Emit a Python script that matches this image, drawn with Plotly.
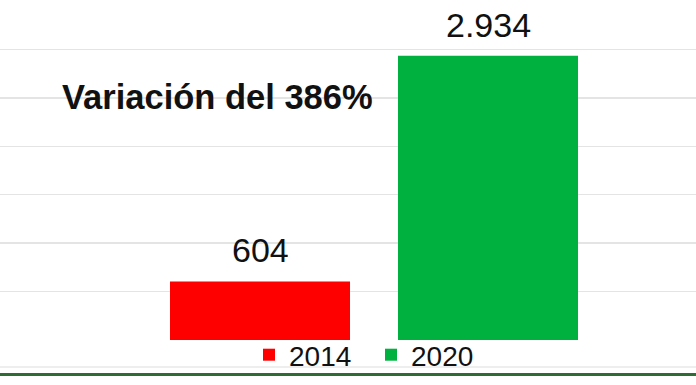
import plotly.graph_objects as go

series_names = ["2014", "2020"]
values = [604, 2934]
colors = ["#FF0000", "#00B140"]
note_text = "Variación del 386%"

FONT = "Liberation Sans, Arial, sans-serif"

def fmt(v):
    return f"{v:,}".replace(",", ".")

fig = go.Figure()
for name, v, c in zip(series_names, values, colors):
    fig.add_trace(go.Bar(
        x=[name], y=[v], name=name,
        marker=dict(color=c, line=dict(width=0)),
        hoverinfo="skip",
    ))

annotations = []
for i, v in enumerate(values):
    annotations.append(dict(
        x=i, y=v, xref="x", yref="y", text=fmt(v), showarrow=False,
        yanchor="bottom", xanchor="center", yshift=10,
        font=dict(family=FONT, size=34, color="#111111"),
    ))
annotations.append(dict(
    x=60 / 696, y=(340 - 97) / 340, xref="paper", yref="paper", text="<b>" + note_text + "</b>",
    showarrow=False, xanchor="left", yanchor="middle",
    font=dict(family=FONT, size=34.5, color="#111111"),
))

fig.update_layout(
    width=696, height=385,
    margin=dict(l=0, r=0, t=0, b=45, pad=0, autoexpand=False),
    paper_bgcolor="white", plot_bgcolor="white",
    barmode="relative", bargap=48 / 228,
    showlegend=True,
    legend=dict(orientation="h", x=249 / 696, xanchor="left", y=(340 - 355) / 340, yanchor="middle",
                font=dict(family=FONT, size=28, color="#111111"),
                entrywidth=77, entrywidthmode="pixels",
                bgcolor="rgba(0,0,0,0)", itemclick=False),
    xaxis=dict(type="category", range=[-260 / 228, 436 / 228], showticklabels=False, showgrid=False,
               zeroline=False, showline=False, fixedrange=True),
    yaxis=dict(range=[0, 3510], dtick=500, tick0=0, showticklabels=False, showgrid=True,
               gridcolor="#E4E4E4", gridwidth=1.5, zeroline=False, showline=False, ticks="",
               fixedrange=True),
    annotations=annotations,
    shapes=[
        dict(type="line", xref="paper", yref="paper", x0=0, x1=1,
             y0=(340 - 367) / 340, y1=(340 - 367) / 340, line=dict(color="#E8E8E8", width=1.5)),
        dict(type="line", xref="paper", yref="paper", x0=0, x1=1,
             y0=(340 - 374.5) / 340, y1=(340 - 374.5) / 340, line=dict(color="#2E6B35", width=3)),
    ],
)

fig.write_html("out.html", config={"displayModeBar": False, "staticPlot": True},
               post_script="document.body.style.margin='0';document.body.style.overflow='hidden';")
